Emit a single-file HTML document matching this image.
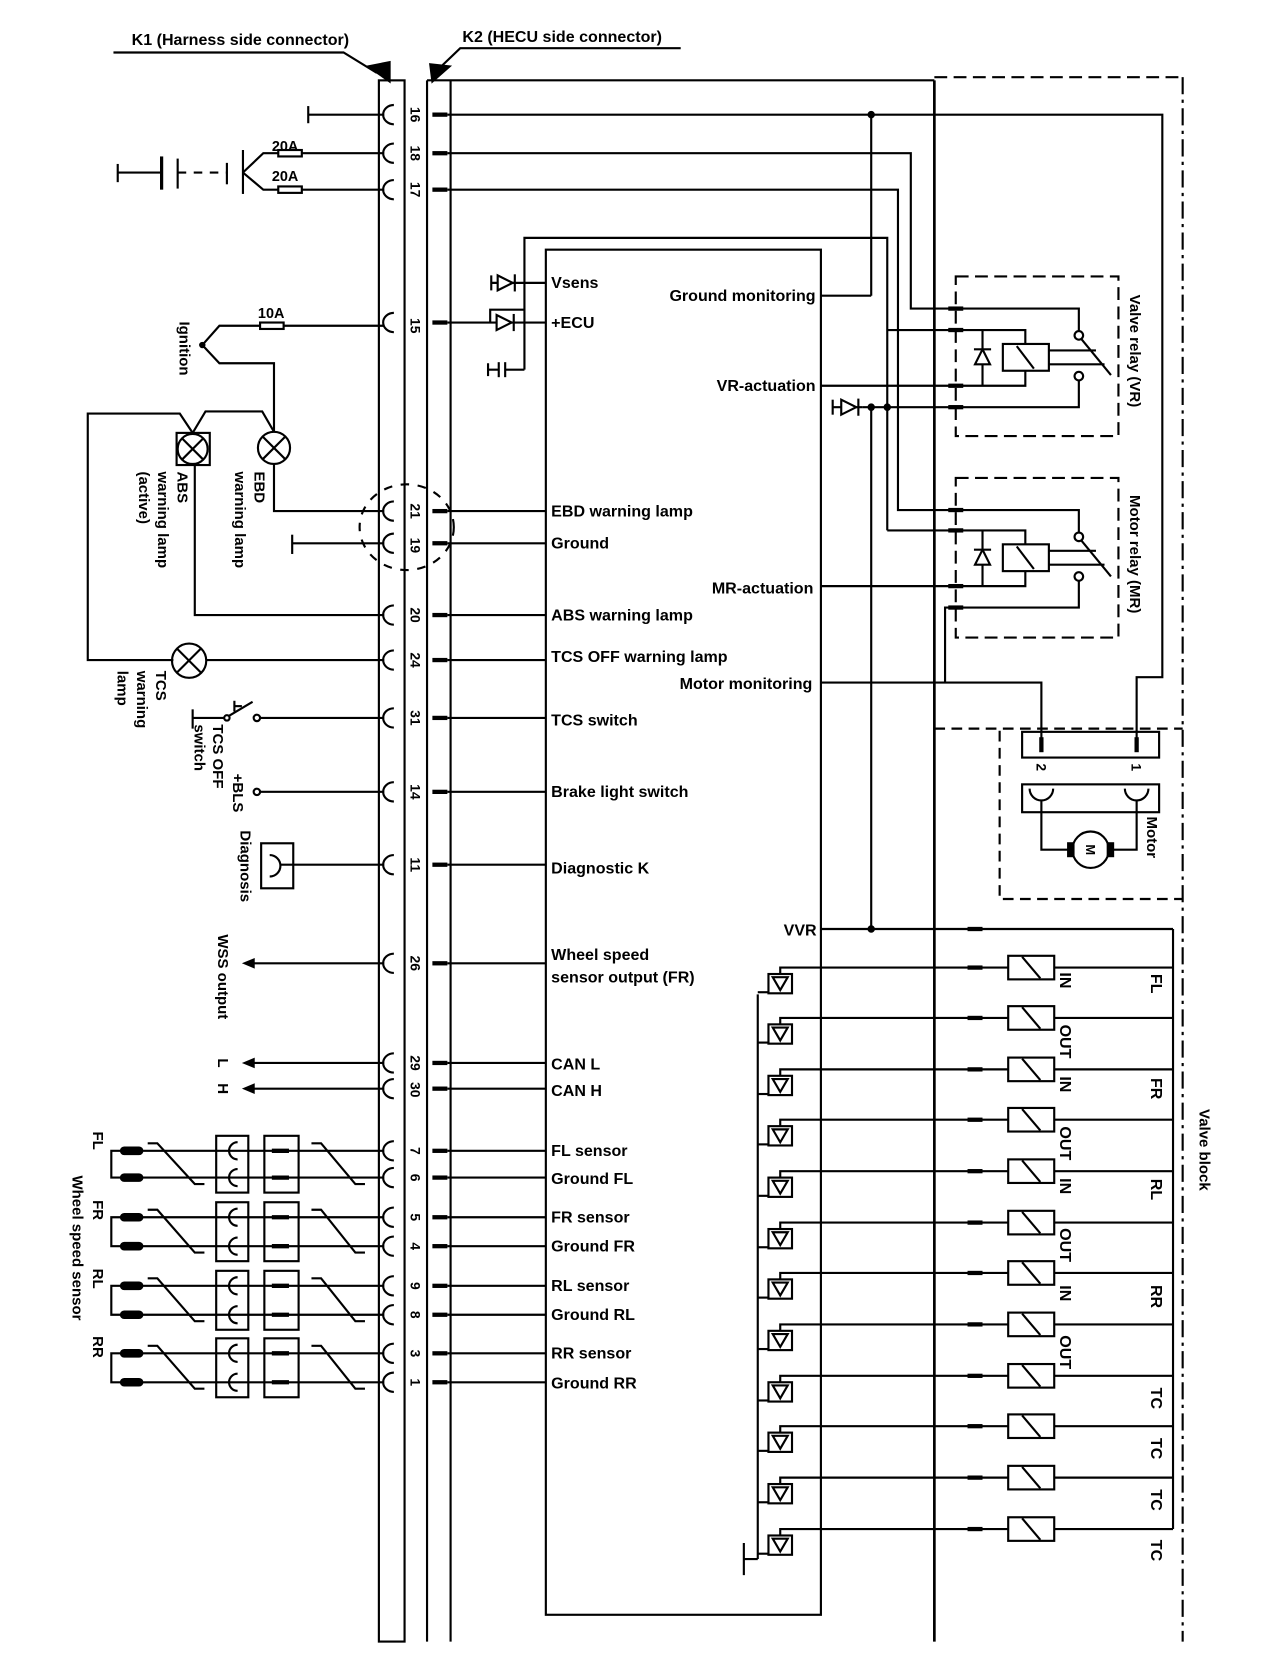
<!DOCTYPE html>
<html><head><meta charset="utf-8"><style>
html,body{margin:0;padding:0;background:#fff;}
svg{display:block;}
text{font-family:"Liberation Sans",Arial,sans-serif;font-weight:bold;fill:#000;stroke:none;}
</style></head><body>
<svg width="1264" height="1678" viewBox="0 0 1181 1566" preserveAspectRatio="none" xmlns="http://www.w3.org/2000/svg">
<rect width="1192" height="1566" fill="#fff"/>
<g stroke="#000" stroke-width="2" fill="none">
<polyline points="106,49 321,49 352,68"/>
<polygon points="344,62 364,58 364,76" fill="#000"/>
<polyline points="636,45 430,45 408,66"/>
<polygon points="402,60 420,62 404,76" fill="#000"/>
<rect x="354" y="75" width="24" height="1457"/>
<line x1="399" y1="75" x2="399" y2="1532"/>
<line x1="421" y1="75" x2="421" y2="1532"/>
<line x1="399" y1="75" x2="873" y2="75"/>
<line x1="873" y1="75" x2="873" y2="1532" stroke-width="2.5"/>
<line x1="873" y1="72" x2="1105" y2="72" stroke-dasharray="12,6"/>
<line x1="1105" y1="72" x2="1105" y2="1532" stroke-dasharray="16,5,3,5"/>
<line x1="873" y1="680" x2="1105" y2="680" stroke-dasharray="10,6"/>
<rect x="510" y="233" width="257" height="1274"/>
<g>
<path d="M368,98 A10,9 0 0,0 368,116"/><path d="M368,134 A10,9 0 0,0 368,152"/><path d="M368,168 A10,9 0 0,0 368,186"/>
<path d="M368,292 A10,9 0 0,0 368,310"/><path d="M368,468 A10,9 0 0,0 368,486"/><path d="M368,498 A10,9 0 0,0 368,516"/>
<path d="M368,565 A10,9 0 0,0 368,583"/><path d="M368,607 A10,9 0 0,0 368,625"/><path d="M368,661 A10,9 0 0,0 368,679"/>
<path d="M368,730 A10,9 0 0,0 368,748"/><path d="M368,798 A10,9 0 0,0 368,816"/><path d="M368,890 A10,9 0 0,0 368,908"/>
<path d="M368,983 A10,9 0 0,0 368,1001"/><path d="M368,1007 A10,9 0 0,0 368,1025"/><path d="M368,1065 A10,9 0 0,0 368,1083"/>
<path d="M368,1090 A10,9 0 0,0 368,1108"/><path d="M368,1127 A10,9 0 0,0 368,1145"/><path d="M368,1154 A10,9 0 0,0 368,1172"/>
<path d="M368,1191 A10,9 0 0,0 368,1209"/><path d="M368,1218 A10,9 0 0,0 368,1236"/><path d="M368,1254 A10,9 0 0,0 368,1272"/>
<path d="M368,1281 A10,9 0 0,0 368,1299"/>
</g>
<g stroke-width="4">
<line x1="404" y1="107" x2="418" y2="107"/><line x1="404" y1="143" x2="418" y2="143"/><line x1="404" y1="177" x2="418" y2="177"/>
<line x1="404" y1="301" x2="418" y2="301"/><line x1="404" y1="477" x2="418" y2="477"/><line x1="404" y1="507" x2="418" y2="507"/>
<line x1="404" y1="574" x2="418" y2="574"/><line x1="404" y1="616" x2="418" y2="616"/><line x1="404" y1="670" x2="418" y2="670"/>
<line x1="404" y1="739" x2="418" y2="739"/><line x1="404" y1="807" x2="418" y2="807"/><line x1="404" y1="899" x2="418" y2="899"/>
<line x1="404" y1="992" x2="418" y2="992"/><line x1="404" y1="1016" x2="418" y2="1016"/><line x1="404" y1="1074" x2="418" y2="1074"/>
<line x1="404" y1="1099" x2="418" y2="1099"/><line x1="404" y1="1136" x2="418" y2="1136"/><line x1="404" y1="1163" x2="418" y2="1163"/>
<line x1="404" y1="1200" x2="418" y2="1200"/><line x1="404" y1="1227" x2="418" y2="1227"/><line x1="404" y1="1263" x2="418" y2="1263"/>
<line x1="404" y1="1290" x2="418" y2="1290"/>
</g>
<line x1="418" y1="477" x2="510" y2="477"/><line x1="418" y1="507" x2="510" y2="507"/><line x1="418" y1="574" x2="510" y2="574"/>
<line x1="418" y1="616" x2="510" y2="616"/><line x1="418" y1="670" x2="510" y2="670"/><line x1="418" y1="739" x2="510" y2="739"/>
<line x1="418" y1="807" x2="510" y2="807"/><line x1="418" y1="899" x2="510" y2="899"/><line x1="418" y1="992" x2="510" y2="992"/>
<line x1="418" y1="1016" x2="510" y2="1016"/><line x1="418" y1="1074" x2="510" y2="1074"/><line x1="418" y1="1099" x2="510" y2="1099"/>
<line x1="418" y1="1136" x2="510" y2="1136"/><line x1="418" y1="1163" x2="510" y2="1163"/><line x1="418" y1="1200" x2="510" y2="1200"/>
<line x1="418" y1="1227" x2="510" y2="1227"/><line x1="418" y1="1263" x2="510" y2="1263"/><line x1="418" y1="1290" x2="510" y2="1290"/>
<polyline points="418,107 1086,107 1086,632 1062,632 1062,690"/>
<polyline points="418,143 851,143 851,288 1008,288 1008,309"/>
<polyline points="418,177 839,177 839,476 1008,476 1008,497"/>
<line x1="814" y1="107" x2="814" y2="276"/>
<line x1="767" y1="276" x2="814" y2="276"/>
<line x1="814" y1="380" x2="814" y2="867"/>
<line x1="418" y1="301" x2="510" y2="301"/>
<polygon points="464,294 464,308 478,301" fill="#fff"/><line x1="480" y1="293" x2="480" y2="309"/>
<polyline points="458,301 458,289 490,289"/>
<polyline points="490,345 490,222 829,222 829,495"/>
<line x1="459" y1="264" x2="510" y2="264"/><line x1="459" y1="257" x2="459" y2="271"/>
<polygon points="465,257 465,271 479,264" fill="#fff"/><line x1="481" y1="256" x2="481" y2="272"/>
<line x1="472" y1="345" x2="490" y2="345"/><line x1="466" y1="338" x2="466" y2="352"/><line x1="472" y1="338" x2="472" y2="352"/><line x1="456" y1="345" x2="466" y2="345"/><line x1="456" y1="339" x2="456" y2="351"/>
<path d="M893,258 H1045 V407 H893 Z" stroke-dasharray="12,6"/>
<g stroke-width="4"><line x1="886" y1="288" x2="900" y2="288"/><line x1="886" y1="308" x2="900" y2="308"/><line x1="886" y1="360" x2="900" y2="360"/><line x1="886" y1="380" x2="900" y2="380"/></g>
<polyline points="829,308 958,308 958,321"/>
<rect x="937" y="321" width="43" height="25" fill="#fff"/><line x1="950" y1="323" x2="966" y2="344"/>
<polyline points="767,360 958,360 958,346"/>
<line x1="918" y1="308" x2="918" y2="360"/><polygon points="918,326 911,340 925,340" fill="#fff"/><line x1="910" y1="326" x2="926" y2="326"/>
<line x1="980" y1="327" x2="1024" y2="327"/><line x1="980" y1="340" x2="1032" y2="340"/>
<circle cx="1008" cy="313" r="4" fill="#fff"/><line x1="1010" y1="316" x2="1038" y2="350"/>
<polyline points="806,380 1008,380 1008,355"/><circle cx="1008" cy="351" r="4" fill="#fff"/>
<line x1="778" y1="373" x2="778" y2="387"/><line x1="778" y1="380" x2="806" y2="380"/>
<polygon points="786,373 786,387 800,380" fill="#fff"/><line x1="802" y1="372" x2="802" y2="388"/>
<circle cx="814" cy="380" r="2.5" fill="#000"/><circle cx="829" cy="380" r="2.5" fill="#000"/><circle cx="814" cy="107" r="2.5" fill="#000"/>
<path d="M893,446 H1045 V595 H893 Z" stroke-dasharray="12,6"/>
<g stroke-width="4"><line x1="886" y1="476" x2="900" y2="476"/><line x1="886" y1="495" x2="900" y2="495"/><line x1="886" y1="547" x2="900" y2="547"/><line x1="886" y1="567" x2="900" y2="567"/></g>
<polyline points="829,495 958,495 958,508"/>
<rect x="937" y="508" width="43" height="25" fill="#fff"/><line x1="950" y1="510" x2="966" y2="531"/>
<polyline points="767,547 958,547 958,533"/>
<line x1="918" y1="495" x2="918" y2="547"/><polygon points="918,513 911,527 925,527" fill="#fff"/><line x1="910" y1="513" x2="926" y2="513"/>
<line x1="980" y1="514" x2="1024" y2="514"/><line x1="980" y1="527" x2="1032" y2="527"/>
<circle cx="1008" cy="501" r="4" fill="#fff"/><line x1="1010" y1="504" x2="1038" y2="538"/>
<polyline points="883,637 883,567 1008,567 1008,542"/><circle cx="1008" cy="538" r="4" fill="#fff"/>
<polyline points="767,637 973,637 973,690"/>
<path d="M934,682 V839 H1105" stroke-dasharray="10,6"/>
<rect x="955" y="683" width="128" height="24"/>
<g stroke-width="4"><line x1="973" y1="688" x2="973" y2="702"/><line x1="1062" y1="688" x2="1062" y2="702"/></g>
<rect x="955" y="732" width="128" height="26"/>
<path d="M962,736 A11,11 0 0,0 984,736"/><path d="M1051,736 A11,11 0 0,0 1073,736"/>
<polyline points="973,747 973,793 1001,793"/><polyline points="1062,747 1062,793 1037,793"/>
<circle cx="1019" cy="793" r="17" fill="#fff"/>
<rect x="998" y="787" width="5" height="12" fill="#000"/><rect x="1035" y="787" width="5" height="12" fill="#000"/>
<line x1="767" y1="867" x2="1096" y2="867"/><circle cx="814" cy="867" r="2.5" fill="#000"/>
<line x1="904" y1="867" x2="918" y2="867" stroke-width="4"/>
<line x1="1096" y1="867" x2="1096" y2="1427"/>
<line x1="708" y1="928" x2="708" y2="1455"/>
<polyline points="708,1455 695,1455"/><line x1="695" y1="1440" x2="695" y2="1470"/>
</g>
<g stroke="#000" stroke-width="2" fill="none">
<g><polyline points="729,909 729,903 1096,903"/><line x1="904" y1="903" x2="918" y2="903" stroke-width="4"/><rect x="942" y="892" width="43" height="22" fill="#fff"/><line x1="955" y1="893" x2="972" y2="913"/><rect x="718" y="909" width="22" height="18" fill="#fff"/><polygon points="722,912 736,912 729,924"/><line x1="708" y1="926" x2="718" y2="926"/></g>
<g><polyline points="729,956 729,950 1096,950"/><line x1="904" y1="950" x2="918" y2="950" stroke-width="4"/><rect x="942" y="939" width="43" height="22" fill="#fff"/><line x1="955" y1="940" x2="972" y2="960"/><rect x="718" y="956" width="22" height="18" fill="#fff"/><polygon points="722,959 736,959 729,971"/><line x1="708" y1="973" x2="718" y2="973"/></g>
<g><polyline points="729,1004 729,998 1096,998"/><line x1="904" y1="998" x2="918" y2="998" stroke-width="4"/><rect x="942" y="987" width="43" height="22" fill="#fff"/><line x1="955" y1="988" x2="972" y2="1008"/><rect x="718" y="1004" width="22" height="18" fill="#fff"/><polygon points="722,1007 736,1007 729,1019"/><line x1="708" y1="1021" x2="718" y2="1021"/></g>
<g><polyline points="729,1051 729,1045 1096,1045"/><line x1="904" y1="1045" x2="918" y2="1045" stroke-width="4"/><rect x="942" y="1034" width="43" height="22" fill="#fff"/><line x1="955" y1="1035" x2="972" y2="1055"/><rect x="718" y="1051" width="22" height="18" fill="#fff"/><polygon points="722,1054 736,1054 729,1066"/><line x1="708" y1="1068" x2="718" y2="1068"/></g>
<g><polyline points="729,1099 729,1093 1096,1093"/><line x1="904" y1="1093" x2="918" y2="1093" stroke-width="4"/><rect x="942" y="1082" width="43" height="22" fill="#fff"/><line x1="955" y1="1083" x2="972" y2="1103"/><rect x="718" y="1099" width="22" height="18" fill="#fff"/><polygon points="722,1102 736,1102 729,1114"/><line x1="708" y1="1116" x2="718" y2="1116"/></g>
<g><polyline points="729,1147 729,1141 1096,1141"/><line x1="904" y1="1141" x2="918" y2="1141" stroke-width="4"/><rect x="942" y="1130" width="43" height="22" fill="#fff"/><line x1="955" y1="1131" x2="972" y2="1151"/><rect x="718" y="1147" width="22" height="18" fill="#fff"/><polygon points="722,1150 736,1150 729,1162"/><line x1="708" y1="1164" x2="718" y2="1164"/></g>
<g><polyline points="729,1194 729,1188 1096,1188"/><line x1="904" y1="1188" x2="918" y2="1188" stroke-width="4"/><rect x="942" y="1177" width="43" height="22" fill="#fff"/><line x1="955" y1="1178" x2="972" y2="1198"/><rect x="718" y="1194" width="22" height="18" fill="#fff"/><polygon points="722,1197 736,1197 729,1209"/><line x1="708" y1="1211" x2="718" y2="1211"/></g>
<g><polyline points="729,1242 729,1236 1096,1236"/><line x1="904" y1="1236" x2="918" y2="1236" stroke-width="4"/><rect x="942" y="1225" width="43" height="22" fill="#fff"/><line x1="955" y1="1226" x2="972" y2="1246"/><rect x="718" y="1242" width="22" height="18" fill="#fff"/><polygon points="722,1245 736,1245 729,1257"/><line x1="708" y1="1259" x2="718" y2="1259"/></g>
<g><polyline points="729,1290 729,1284 1096,1284"/><line x1="904" y1="1284" x2="918" y2="1284" stroke-width="4"/><rect x="942" y="1273" width="43" height="22" fill="#fff"/><line x1="955" y1="1274" x2="972" y2="1294"/><rect x="718" y="1290" width="22" height="18" fill="#fff"/><polygon points="722,1293 736,1293 729,1305"/><line x1="708" y1="1307" x2="718" y2="1307"/></g>
<g><polyline points="729,1337 729,1331 1096,1331"/><line x1="904" y1="1331" x2="918" y2="1331" stroke-width="4"/><rect x="942" y="1320" width="43" height="22" fill="#fff"/><line x1="955" y1="1321" x2="972" y2="1341"/><rect x="718" y="1337" width="22" height="18" fill="#fff"/><polygon points="722,1340 736,1340 729,1352"/><line x1="708" y1="1354" x2="718" y2="1354"/></g>
<g><polyline points="729,1385 729,1379 1096,1379"/><line x1="904" y1="1379" x2="918" y2="1379" stroke-width="4"/><rect x="942" y="1368" width="43" height="22" fill="#fff"/><line x1="955" y1="1369" x2="972" y2="1389"/><rect x="718" y="1385" width="22" height="18" fill="#fff"/><polygon points="722,1388 736,1388 729,1400"/><line x1="708" y1="1402" x2="718" y2="1402"/></g>
<g><polyline points="729,1433 729,1427 1096,1427"/><line x1="904" y1="1427" x2="918" y2="1427" stroke-width="4"/><rect x="942" y="1416" width="43" height="22" fill="#fff"/><line x1="955" y1="1417" x2="972" y2="1437"/><rect x="718" y="1433" width="22" height="18" fill="#fff"/><polygon points="722,1436 736,1436 729,1448"/><line x1="708" y1="1450" x2="718" y2="1450"/></g>
</g>
<g stroke="#000" stroke-width="2" fill="none">
<line x1="288" y1="107" x2="359" y2="107"/><line x1="288" y1="99" x2="288" y2="115"/>
<line x1="110" y1="161" x2="151" y2="161"/><line x1="110" y1="153" x2="110" y2="170"/>
<line x1="151" y1="146" x2="151" y2="177" stroke-width="3"/>
<line x1="166" y1="148" x2="166" y2="176"/>
<line x1="166" y1="161" x2="212" y2="161" stroke-dasharray="8,7"/>
<line x1="212" y1="152" x2="212" y2="172"/>
<line x1="227" y1="140" x2="227" y2="181"/>
<polyline points="227,161 246,143 359,143"/><polyline points="227,161 246,177 359,177"/>
<rect x="260" y="140" width="22" height="6" fill="#fff"/><rect x="260" y="174" width="22" height="6" fill="#fff"/>
<polyline points="189,322 205,304 359,304"/>
<rect x="243" y="301" width="22" height="6" fill="#fff"/>
<polyline points="189,322 205,339 256,339 256,403"/>
<circle cx="189" cy="322" r="2" fill="#000"/>
<polyline points="162,616 82,616 82,386 168,386 180,404"/>
<polyline points="180,404 192,384 245,384 256,403"/>
<rect x="165" y="404" width="31" height="30"/>
<circle cx="180" cy="419" r="14"/><line x1="170" y1="409" x2="190" y2="429"/><line x1="190" y1="409" x2="170" y2="429"/>
<circle cx="256" cy="418" r="15"/><line x1="245" y1="407" x2="267" y2="429"/><line x1="267" y1="407" x2="245" y2="429"/>
<polyline points="256,433 256,477 359,477"/>
<polyline points="182,434 182,574 359,574"/>
<line x1="273" y1="507" x2="359" y2="507"/><line x1="273" y1="499" x2="273" y2="517"/>
<circle cx="176.7" cy="616.6" r="16"/><line x1="165" y1="605" x2="188" y2="628"/><line x1="188" y1="605" x2="165" y2="628"/>
<line x1="193" y1="616" x2="359" y2="616"/>
<ellipse cx="380" cy="492" rx="44" ry="40" stroke-dasharray="8,8"/>
<line x1="180" y1="662" x2="180" y2="680"/><line x1="180" y1="670" x2="210" y2="670"/>
<circle cx="212" cy="670" r="2.5"/><line x1="214" y1="668" x2="236" y2="655"/>
<line x1="219" y1="654" x2="219" y2="664"/><line x1="219" y1="659" x2="226" y2="659"/>
<circle cx="240" cy="670" r="3"/><line x1="243" y1="670" x2="359" y2="670"/>
<circle cx="240" cy="739" r="3"/><line x1="243" y1="739" x2="359" y2="739"/>
<rect x="244" y="787" width="30" height="42"/>
<path d="M252,798 A10,10 0 0,1 252,818"/>
<line x1="262" y1="807" x2="359" y2="807"/>
<line x1="236" y1="899" x2="359" y2="899"/>
<line x1="236" y1="992" x2="359" y2="992"/>
<line x1="236" y1="1016" x2="359" y2="1016"/>
</g>
<g fill="#000">
<polygon points="226,899 238,894 238,904"/>
<polygon points="226,992 238,987 238,997"/>
<polygon points="226,1016 238,1011 238,1021"/>
</g>
<g stroke="#000" stroke-width="2" fill="none">
<g>
<polyline points="113,1074 104,1074 104,1099 113,1099"/>
<rect x="113" y="1071" width="20" height="6" rx="3" fill="#000"/><rect x="113" y="1096" width="20" height="6" rx="3" fill="#000"/>
<line x1="133" y1="1074" x2="359" y2="1074"/><line x1="133" y1="1099" x2="359" y2="1099"/>
<polyline points="138,1067 147,1067 182,1105 191,1105"/>
<polyline points="291,1067 300,1067 332,1105 341,1105"/>
<rect x="202" y="1060" width="30" height="53"/>
<path d="M222,1066 A8,8 0 0,0 222,1082"/><path d="M222,1091 A8,8 0 0,0 222,1107"/>
<rect x="247" y="1060" width="32" height="53"/>
<line x1="254" y1="1074" x2="270" y2="1074" stroke-width="4"/><line x1="254" y1="1099" x2="270" y2="1099" stroke-width="4"/>
</g>
<g>
<polyline points="113,1136 104,1136 104,1163 113,1163"/>
<rect x="113" y="1133" width="20" height="6" rx="3" fill="#000"/><rect x="113" y="1160" width="20" height="6" rx="3" fill="#000"/>
<line x1="133" y1="1136" x2="359" y2="1136"/><line x1="133" y1="1163" x2="359" y2="1163"/>
<polyline points="138,1129 147,1129 182,1169 191,1169"/>
<polyline points="291,1129 300,1129 332,1169 341,1169"/>
<rect x="202" y="1122" width="30" height="55"/>
<path d="M222,1128 A8,8 0 0,0 222,1144"/><path d="M222,1155 A8,8 0 0,0 222,1171"/>
<rect x="247" y="1122" width="32" height="55"/>
<line x1="254" y1="1136" x2="270" y2="1136" stroke-width="4"/><line x1="254" y1="1163" x2="270" y2="1163" stroke-width="4"/>
</g>
<g>
<polyline points="113,1200 104,1200 104,1227 113,1227"/>
<rect x="113" y="1197" width="20" height="6" rx="3" fill="#000"/><rect x="113" y="1224" width="20" height="6" rx="3" fill="#000"/>
<line x1="133" y1="1200" x2="359" y2="1200"/><line x1="133" y1="1227" x2="359" y2="1227"/>
<polyline points="138,1193 147,1193 182,1233 191,1233"/>
<polyline points="291,1193 300,1193 332,1233 341,1233"/>
<rect x="202" y="1186" width="30" height="55"/>
<path d="M222,1192 A8,8 0 0,0 222,1208"/><path d="M222,1219 A8,8 0 0,0 222,1235"/>
<rect x="247" y="1186" width="32" height="55"/>
<line x1="254" y1="1200" x2="270" y2="1200" stroke-width="4"/><line x1="254" y1="1227" x2="270" y2="1227" stroke-width="4"/>
</g>
<g>
<polyline points="113,1263 104,1263 104,1290 113,1290"/>
<rect x="113" y="1260" width="20" height="6" rx="3" fill="#000"/><rect x="113" y="1287" width="20" height="6" rx="3" fill="#000"/>
<line x1="133" y1="1263" x2="359" y2="1263"/><line x1="133" y1="1290" x2="359" y2="1290"/>
<polyline points="138,1256 147,1256 182,1296 191,1296"/>
<polyline points="291,1256 300,1256 332,1296 341,1296"/>
<rect x="202" y="1249" width="30" height="55"/>
<path d="M222,1255 A8,8 0 0,0 222,1271"/><path d="M222,1282 A8,8 0 0,0 222,1298"/>
<rect x="247" y="1249" width="32" height="55"/>
<line x1="254" y1="1263" x2="270" y2="1263" stroke-width="4"/><line x1="254" y1="1290" x2="270" y2="1290" stroke-width="4"/>
</g>
</g>
<g font-size="15">
<text x="123" y="42">K1 (Harness side connector)</text>
<text x="432" y="39">K2 (HECU side connector)</text>
<text x="254" y="141" font-size="13.5">20A</text>
<text x="254" y="169" font-size="13.5">20A</text>
<text x="241" y="297" font-size="13.5">10A</text>
</g>
<g font-size="13" text-anchor="middle" dominant-baseline="central">
<text transform="translate(388,107) rotate(90)">16</text>
<text transform="translate(388,143) rotate(90)">18</text>
<text transform="translate(388,177) rotate(90)">17</text>
<text transform="translate(388,304) rotate(90)">15</text>
<text transform="translate(388,477) rotate(90)">21</text>
<text transform="translate(388,509) rotate(90)">19</text>
<text transform="translate(388,574) rotate(90)">20</text>
<text transform="translate(388,616) rotate(90)">24</text>
<text transform="translate(388,670) rotate(90)">31</text>
<text transform="translate(388,739) rotate(90)">14</text>
<text transform="translate(388,807) rotate(90)">11</text>
<text transform="translate(388,899) rotate(90)">26</text>
<text transform="translate(388,992) rotate(90)">29</text>
<text transform="translate(388,1017) rotate(90)">30</text>
<text transform="translate(388,1074) rotate(90)">7</text>
<text transform="translate(388,1099) rotate(90)">6</text>
<text transform="translate(388,1136) rotate(90)">5</text>
<text transform="translate(388,1163) rotate(90)">4</text>
<text transform="translate(388,1200) rotate(90)">9</text>
<text transform="translate(388,1227) rotate(90)">8</text>
<text transform="translate(388,1263) rotate(90)">3</text>
<text transform="translate(388,1290) rotate(90)">1</text>
<text transform="translate(973,716) rotate(90)">2</text>
<text transform="translate(1062,716) rotate(90)">1</text>
<text transform="translate(1019,793) rotate(90)" font-size="12">M</text>
</g>
<g font-size="15">
<text x="515" y="269">Vsens</text>
<text x="515" y="306">+ECU</text>
<text x="515" y="482">EBD warning lamp</text>
<text x="515" y="512">Ground</text>
<text x="515" y="579">ABS warning lamp</text>
<text x="515" y="618">TCS OFF warning lamp</text>
<text x="515" y="677">TCS switch</text>
<text x="515" y="744">Brake light switch</text>
<text x="515" y="815">Diagnostic K</text>
<text x="515" y="896">Wheel speed</text>
<text x="515" y="917">sensor output (FR)</text>
<text x="515" y="998">CAN L</text>
<text x="515" y="1023">CAN H</text>
<text x="515" y="1079">FL sensor</text>
<text x="515" y="1105">Ground FL</text>
<text x="515" y="1141">FR sensor</text>
<text x="515" y="1168">Ground FR</text>
<text x="515" y="1205">RL sensor</text>
<text x="515" y="1232">Ground RL</text>
<text x="515" y="1268">RR sensor</text>
<text x="515" y="1296">Ground RR</text>
</g>
<g font-size="15" text-anchor="end">
<text x="762" y="281">Ground monitoring</text>
<text x="762" y="365">VR-actuation</text>
<text x="760" y="554">MR-actuation</text>
<text x="759" y="643">Motor monitoring</text>
<text x="763" y="873">VVR</text>
</g>
<g font-size="14" dominant-baseline="central">
<text transform="translate(172,300) rotate(90)">Ignition</text>
<text transform="translate(170,440) rotate(90)">ABS</text>
<text transform="translate(152,440) rotate(90)">warning lamp</text>
<text transform="translate(134,440) rotate(90)">(active)</text>
<text transform="translate(242,440) rotate(90)">EBD</text>
<text transform="translate(224,440) rotate(90)">warning lamp</text>
<text transform="translate(150,626) rotate(90)">TCS</text>
<text transform="translate(132,626) rotate(90)">warning</text>
<text transform="translate(114,626) rotate(90)">lamp</text>
<text transform="translate(203,676) rotate(90)">TCS OFF</text>
<text transform="translate(186,676) rotate(90)">switch</text>
<text transform="translate(222,722) rotate(90)">+BLS</text>
<text transform="translate(229,775) rotate(90)">Diagnosis</text>
<text transform="translate(208,872) rotate(90)">WSS output</text>
<text transform="translate(208,992) rotate(90)" text-anchor="middle">L</text>
<text transform="translate(208,1016) rotate(90)" text-anchor="middle">H</text>
<text transform="translate(91,1056) rotate(90)">FL</text>
<text transform="translate(91,1120) rotate(90)">FR</text>
<text transform="translate(91,1184) rotate(90)">RL</text>
<text transform="translate(91,1247) rotate(90)">RR</text>
<text transform="translate(72,1097) rotate(90)">Wheel speed sensor</text>
<text transform="translate(1060,275) rotate(90)">Valve relay (VR)</text>
<text transform="translate(1060,462) rotate(90)">Motor relay (MR)</text>
<text transform="translate(1076,762) rotate(90)">Motor</text>
<text transform="translate(1125,1035) rotate(90)">Valve block</text>
</g>
<g font-size="15" dominant-baseline="central" text-anchor="middle">
<text transform="translate(995,915) rotate(90)">IN</text>
<text transform="translate(995,972) rotate(90)">OUT</text>
<text transform="translate(995,1012) rotate(90)">IN</text>
<text transform="translate(995,1067) rotate(90)">OUT</text>
<text transform="translate(995,1107) rotate(90)">IN</text>
<text transform="translate(995,1162) rotate(90)">OUT</text>
<text transform="translate(995,1207) rotate(90)">IN</text>
<text transform="translate(995,1262) rotate(90)">OUT</text>
<text transform="translate(1080,918) rotate(90)">FL</text>
<text transform="translate(1080,1016) rotate(90)">FR</text>
<text transform="translate(1080,1110) rotate(90)">RL</text>
<text transform="translate(1080,1210) rotate(90)">RR</text>
<text transform="translate(1080,1305) rotate(90)">TC</text>
<text transform="translate(1080,1352) rotate(90)">TC</text>
<text transform="translate(1080,1400) rotate(90)">TC</text>
<text transform="translate(1080,1447) rotate(90)">TC</text>
</g>
</svg>
</body></html>
